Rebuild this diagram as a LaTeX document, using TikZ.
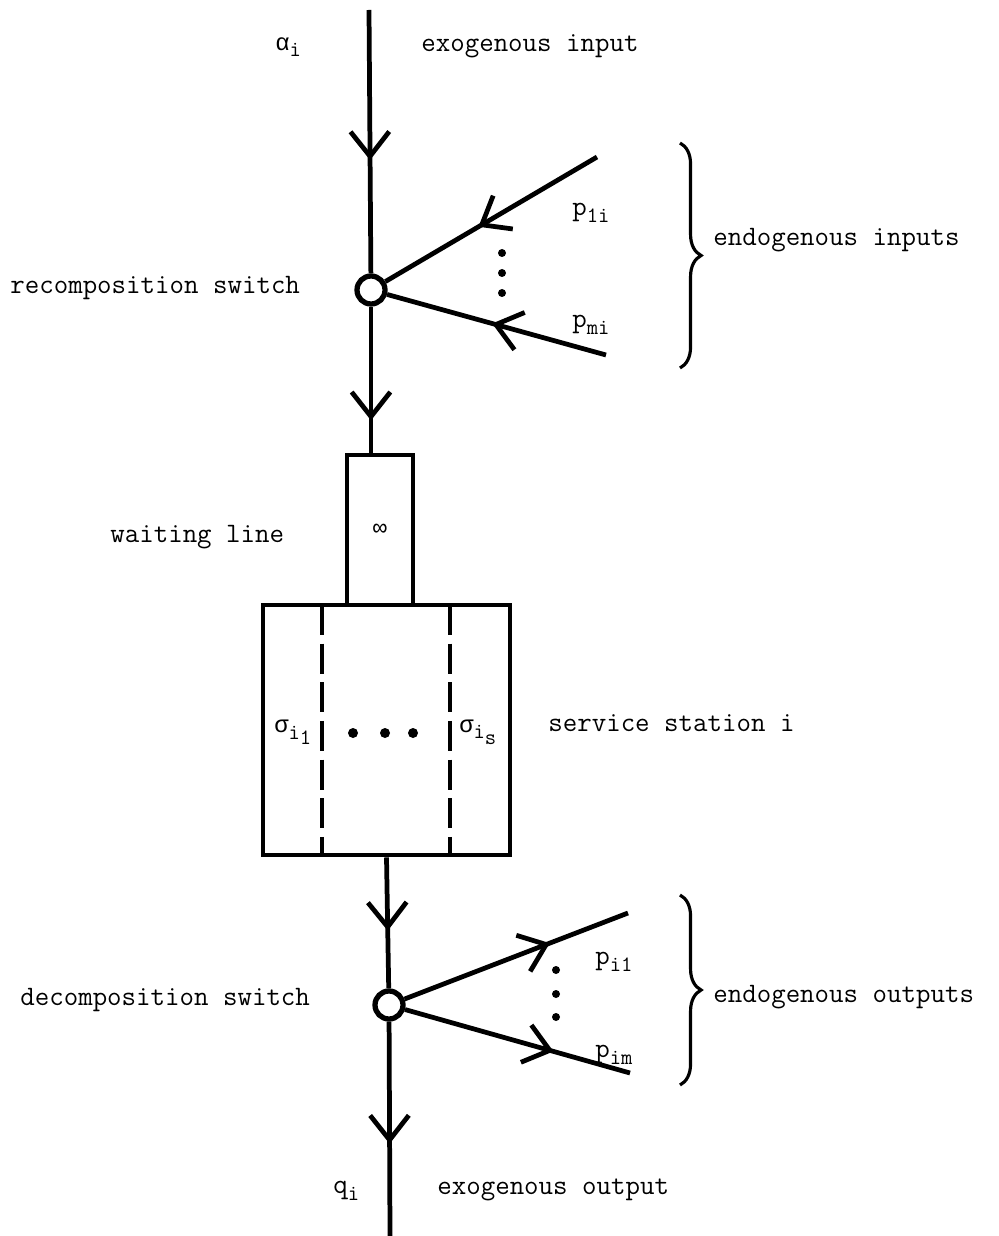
\documentclass[tikz,border=0pt]{standalone}
\usepackage{fontspec}
\newfontfamily\grkfont{Liberation Mono}
\usepackage{tikz}
\usetikzlibrary{arrows.meta,decorations.markings,decorations.pathreplacing}

\newcommand{\dn}[1]{\raisebox{-0.55ex}{\fontsize{12.5}{14}\selectfont #1}}
\newcommand{\grk}[1]{{\grkfont\fontsize{13.5}{14}\selectfont #1}}

\tikzset{
  flow/.style={line width=2.7pt},
  midarrow/.style={flow, postaction={decorate},
    decoration={markings, mark=at position #1 with {\arrow{Straight Barb[length=14pt,width=22pt]}}}},
  switch/.style={circle, draw, line width=3pt, minimum size=0.56cm, inner sep=0pt},
  box/.style={draw, line width=2.8pt, inner sep=0pt},
  lbl/.style={font=\fontsize{16}{18}\selectfont\ttfamily, anchor=west, inner sep=0pt},
  sym/.style={font=\fontsize{16}{18}\selectfont\ttfamily, inner sep=0pt},
  dashline/.style={line width=2.6pt, dash pattern=on 17pt off 5pt},
  endobrace/.style={decorate, decoration={brace, amplitude=12pt}, line width=1.8pt},
}

\begin{document}
\begin{tikzpicture}[x=0.2mm, y=-0.2mm]
 \useasboundingbox (0,0) rectangle (999,1236);
 % station
 \coordinate (top) at (369,10);
 \node[switch] (rc) at (371,290) {};
 \node[box, minimum width=1.32cm, minimum height=3cm] (wl) at (380,530) {\grk{∞}};
 \node[box, minimum width=4.94cm, minimum height=5cm] (ss) at (386.5,730) {};
 \node[switch] (dc) at (389,1005) {};
 \coordinate (bot) at (390,1236);
 \coordinate (in1) at (597,157);
 \coordinate (inm) at (606,355);
 \coordinate (out1) at (628,913);
 \coordinate (outm) at (630,1073);

 \draw[midarrow=0.57] (top) -- (rc);
 \draw[midarrow=0.56] (in1) -- (rc);
 \draw[midarrow=0.52] (inm) -- (rc);
 \draw[midarrow=0.78] (rc) -- (rc |- wl.north);
 \draw[midarrow=0.56] (ss.south) -- (dc);
 \draw[midarrow=0.65] (dc) -- (out1);
 \draw[midarrow=0.66] (dc) -- (outm);
 \draw[midarrow=0.57] (dc) -- (bot);

 % servers
 \draw[dashline] (322,605) -- (322,855);
 \draw[dashline] (450,605) -- (450,855);
 \foreach \x in {353,385,413} \fill (\x,733) circle (5);
 \foreach \y in {253,273,293} \fill (502,\y) circle (4);
 \foreach \y in {970,994,1017} \fill (556,\y) circle (4);

 % labels
 \node[sym, anchor=west] (alpha) at (275,47) {\grk{α}\dn{i}};
 \node[lbl] (exin) at (421,46) {exogenous input};
 \node[lbl] (reclbl) at (10,288) {recomposition switch};
 \node[sym, anchor=west] (p1i) at (572,213) {p\dn{1i}};
 \node[sym, anchor=west] (pmi) at (572,325) {p\dn{mi}};
 \draw[endobrace] (680,143) -- (680,368);
 \node[lbl] (endin) at (713,240) {endogenous inputs};
 \node[lbl] (wllbl) at (110,537) {waiting line};
 \node[sym, anchor=west] (sig1) at (274,732) {\grk{σ}\dn{i\dn{1}}};
 \node[sym, anchor=west] (sigs) at (459,732) {\grk{σ}\dn{i\dn{s}}};
 \node[lbl] (sslbl) at (548,723) {service station i};
 \node[lbl] (declbl) at (20,1000) {decomposition switch};
 \node[sym, anchor=west] (pi1) at (595,962) {p\dn{i1}};
 \node[sym, anchor=west] (pim) at (595,1055) {p\dn{im}};
 \draw[endobrace] (680,895) -- (680,1085);
 \node[lbl] (endout) at (713,997) {endogenous outputs};
 \node[sym, anchor=west] (q) at (333,1191) {q\dn{i}};
 \node[lbl] (exout) at (437,1190) {exogenous output};
\end{tikzpicture}
\end{document}
